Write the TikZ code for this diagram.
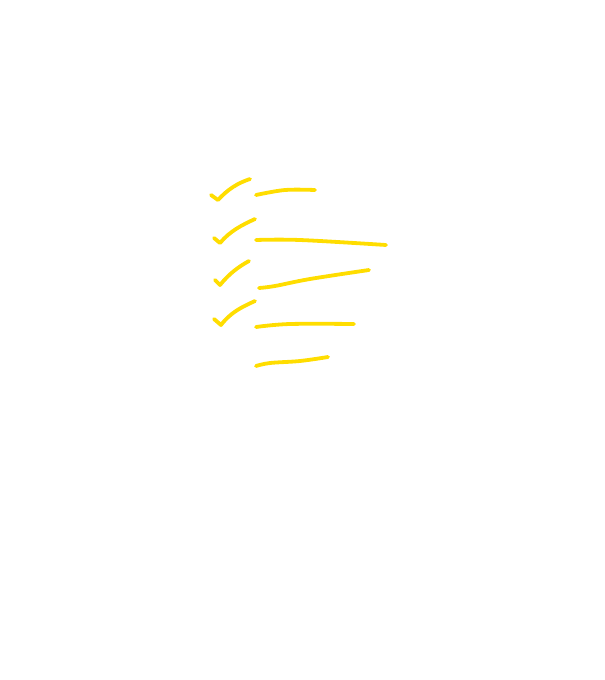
\documentclass[tikz,border=0pt]{standalone}
\definecolor{hl}{HTML}{FFDD00}
\begin{document}
\begin{tikzpicture}[x=1pt,y=-1pt,stroke/.style={draw=hl,line width=3.8pt,line cap=round,line join=round}]
\useasboundingbox (0,0) rectangle (605,680);
\draw[stroke] (211,195) -- (218,200) .. controls (228,189) and (238,183) .. (250,179);
\draw[stroke] plot[smooth,tension=0.6] coordinates {(256,195) (285,190) (315,190)};
\draw[stroke] (214,238) -- (220,243) .. controls (230,231) and (242,225) .. (255,219);
\draw[stroke] plot[smooth,tension=0.6] coordinates {(256,240) (300,240) (386,245)};
\draw[stroke] (215,280) -- (220,285) .. controls (229,274) and (238,267) .. (249,261);
\draw[stroke] plot[smooth,tension=0.6] coordinates {(259,288) (275,286) (310,279) (369,270)};
\draw[stroke] (214,319) -- (221,325) .. controls (231,312) and (242,307) .. (255,301);
\draw[stroke] plot[smooth,tension=0.6] coordinates {(256,327) (290,324) (354,324)};
\draw[stroke] plot[smooth,tension=0.6] coordinates {(256,366) (270,363) (300,361) (328,357)};
\end{tikzpicture}
\end{document}
